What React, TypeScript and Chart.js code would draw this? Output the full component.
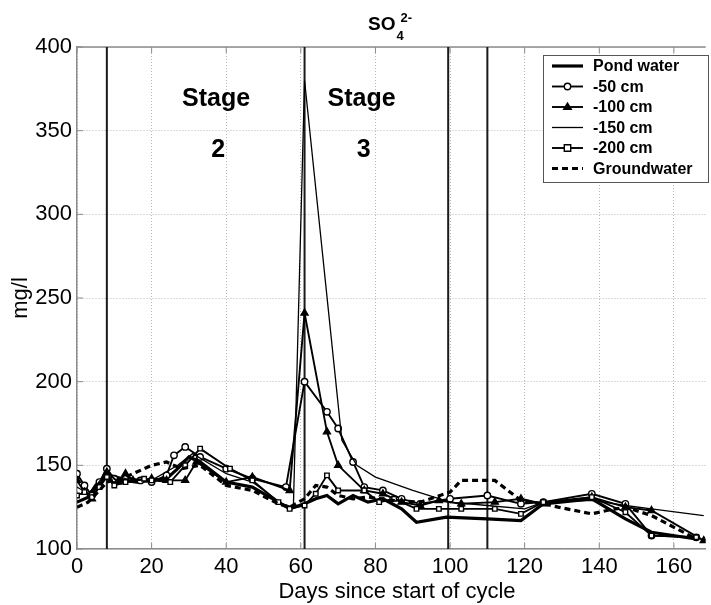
import { useEffect, useRef } from "react";
import { Chart, registerables } from "chart.js";

Chart.register(...registerables);

// ---------------- data ----------------
const seriesNames = ["Pond water", "-50 cm", "-100 cm", "-150 cm", "-200 cm", "Groundwater"];

const pondWater: [number, number][] = [
  [0, 128], [3, 131], [5, 138], [8, 144], [10, 140], [13, 141], [16, 140], [20, 141], [24, 142],
  [27, 148], [30, 155], [33, 152], [40, 140], [47, 137], [54, 128], [57, 124], [61, 127], [64, 130],
  [67, 132], [70, 127], [74, 132], [78, 128], [82, 130], [87, 124], [91, 116], [99, 119], [110, 118],
  [119, 117], [125, 127], [138, 130], [147, 118], [154, 110], [166, 106],
];

const minus50: [number, number][] = [
  [0, 145], [2, 138], [4, 132], [6, 140], [8, 148], [10, 142], [13, 143], [17, 141], [20, 140],
  [24, 144], [26, 156], [29, 161], [33, 155], [40, 148], [47, 142], [56, 137], [61, 200], [67, 182],
  [70, 172], [74, 152], [77, 137], [82, 135], [87, 130], [92, 127], [100, 130], [110, 132], [119, 127],
  [125, 128], [138, 133], [147, 127], [154, 108], [166, 107],
];

const minus100: [number, number][] = [
  [0, 141], [2, 134], [4, 130], [6, 138], [8, 146], [11, 140], [13, 145], [15, 141], [20, 142],
  [24, 141], [29, 141], [32, 152], [40, 140], [47, 143], [57, 135], [61, 241], [67, 170], [70, 150],
  [77, 135], [82, 133], [87, 128], [92, 126], [97, 129], [103, 127], [112, 128], [119, 130], [125, 127],
  [138, 131], [147, 125], [154, 123], [168, 105],
];

const minus150: [number, number][] = [
  [0, 137], [3, 133], [8, 145], [13, 142], [20, 141], [27, 150], [31, 157], [40, 145], [47, 140],
  [55, 127], [58, 125], [61, 380], [71, 165], [75, 150], [80, 143], [90, 135], [100, 128], [110, 126],
  [120, 124], [125, 128], [138, 129], [147, 126], [154, 124], [168, 120],
];

const minus200: [number, number][] = [
  [0, 132], [2, 134], [4, 131], [6, 137], [8, 143], [10, 138], [13, 140], [18, 142], [20, 141],
  [25, 140], [29, 150], [33, 160], [41, 148], [47, 141], [54, 128], [57, 124], [61, 126], [64, 133],
  [67, 144], [70, 135], [77, 135], [81, 128], [85, 130], [91, 124], [97, 124], [103, 124], [112, 124],
  [119, 121], [125, 128], [138, 131], [147, 122], [154, 108], [166, 107],
];

const groundwater: [number, number][] = [
  [0, 125], [3, 128], [6, 135], [8, 140], [12, 142], [16, 146], [20, 150], [24, 152], [28, 148],
  [33, 150], [40, 138], [47, 135], [54, 127], [57, 125], [61, 130], [64, 138], [67, 137], [70, 132],
  [74, 130], [78, 131], [85, 129], [92, 128], [100, 134], [103, 141], [112, 141], [119, 129],
  [125, 127], [129, 125], [138, 121], [142, 123], [147, 125], [154, 120], [166, 106],
];

const seriesData = [pondWater, minus50, minus100, minus150, minus200, groundwater];

const xTickValues = [0, 20, 40, 60, 80, 100, 120, 140, 160];
const yTickValues = [100, 150, 200, 250, 300, 350, 400];
const xRange = [0, 168.5];
const yRange = [100, 400];

const stageBoundaries = [8, 61, 99.5, 110];
const stageLabels = [
  { day: 37.3, label: "2" },
  { day: 76.3, label: "3" },
];

// ---------------- styles ----------------
const FONT = "'Liberation Sans', Arial, Helvetica, sans-serif";
const INK = "#000";
type Style = {
  borderWidth: number;
  borderDash?: number[];
  pointStyle?: string | false;
  pointRadius?: number;
  pointFill?: string;
};
const styles: Style[] = [
  { borderWidth: 3.2 },
  { borderWidth: 1.9, pointStyle: "circle", pointRadius: 3.2, pointFill: "#fff" },
  { borderWidth: 1.9, pointStyle: "triangle", pointRadius: 4, pointFill: "#000" },
  { borderWidth: 1.3 },
  { borderWidth: 1.9, pointStyle: "rect", pointRadius: 3.2, pointFill: "#fff" },
  { borderWidth: 3.2, borderDash: [6, 4] },
];

function drawMarker(ctx: CanvasRenderingContext2D, style: string, x: number, y: number, r: number, fill: string) {
  ctx.beginPath();
  if (style === "circle") {
    ctx.arc(x, y, r, 0, Math.PI * 2);
  } else if (style === "triangle") {
    ctx.moveTo(x, y - r);
    ctx.lineTo(x + r * 0.95, y + r * 0.6);
    ctx.lineTo(x - r * 0.95, y + r * 0.6);
    ctx.closePath();
  } else if (style === "rect") {
    ctx.rect(x - r, y - r, 2 * r, 2 * r);
  }
  ctx.fillStyle = fill;
  ctx.fill();
  ctx.lineWidth = 1.4;
  ctx.setLineDash([]);
  ctx.strokeStyle = INK;
  ctx.stroke();
}

const overlayPlugin = {
  id: "overlay",
  beforeDatasetsDraw(chart: any) {
    const { ctx, chartArea, scales } = chart;
    const xs = scales.x;
    const ys = scales.y;
    ctx.save();
    // top border
    ctx.strokeStyle = "#8c8c8c";
    ctx.lineWidth = 1.5;
    ctx.beginPath();
    ctx.moveTo(chartArea.left, chartArea.top);
    ctx.lineTo(chartArea.right, chartArea.top);
    ctx.stroke();
    // inward tick marks
    ctx.lineWidth = 1;
    xTickValues.forEach((v) => {
      const px = xs.getPixelForValue(v);
      ctx.beginPath();
      ctx.moveTo(px, chartArea.bottom);
      ctx.lineTo(px, chartArea.bottom - 6);
      ctx.moveTo(px, chartArea.top);
      ctx.lineTo(px, chartArea.top + 6);
      ctx.stroke();
    });
    yTickValues.forEach((v) => {
      const py = ys.getPixelForValue(v);
      ctx.beginPath();
      ctx.moveTo(chartArea.left, py);
      ctx.lineTo(chartArea.left + 6, py);
      ctx.stroke();
    });
    // stage boundary lines
    ctx.strokeStyle = "#1a1a1a";
    ctx.lineWidth = 2;
    stageBoundaries.forEach((d) => {
      const px = xs.getPixelForValue(d);
      ctx.beginPath();
      ctx.moveTo(px, chartArea.top);
      ctx.lineTo(px, chartArea.bottom);
      ctx.stroke();
    });
    ctx.restore();
  },
  afterDraw(chart: any) {
    const { ctx, chartArea, scales } = chart;
    const xs = scales.x;
    ctx.save();
    ctx.fillStyle = INK;
    // stage labels
    ctx.font = `bold 25px ${FONT}`;
    ctx.textAlign = "center";
    ctx.textBaseline = "alphabetic";
    stageLabels.forEach((s) => {
      const px = xs.getPixelForValue(s.day);
      ctx.fillText("Stage", px, chartArea.top + 59);
      ctx.fillText(s.label, px + 2, chartArea.top + 110);
    });
    // title SO4 2-
    ctx.textAlign = "left";
    ctx.font = `bold 19px ${FONT}`;
    ctx.fillText("SO", 368, 30);
    const w = ctx.measureText("SO").width;
    ctx.font = `bold 13px ${FONT}`;
    ctx.fillText("4", 368 + w + 1, 40);
    ctx.fillText("2-", 368 + w + 5, 22);
    // axis titles
    ctx.font = `22px ${FONT}`;
    ctx.textAlign = "center";
    ctx.fillText("Days since start of cycle", 397, 598);
    ctx.save();
    ctx.translate(27, (chartArea.top + chartArea.bottom) / 2);
    ctx.rotate(-Math.PI / 2);
    ctx.fillText("mg/l", 0, 0);
    ctx.restore();
    // legend
    const lx = 543, ly = 55, lw = 165, lh = 127;
    ctx.fillStyle = "#fff";
    ctx.fillRect(lx, ly, lw, lh);
    ctx.strokeStyle = "#555";
    ctx.lineWidth = 1;
    ctx.strokeRect(lx + 0.5, ly + 0.5, lw, lh);
    ctx.font = `bold 16px ${FONT}`;
    ctx.textAlign = "left";
    ctx.textBaseline = "middle";
    seriesNames.forEach((name, i) => {
      const st = styles[i];
      const y = ly + 11 + i * 20.5;
      ctx.strokeStyle = INK;
      ctx.lineWidth = st.borderWidth;
      ctx.setLineDash(st.borderDash || []);
      ctx.beginPath();
      ctx.moveTo(552, y);
      ctx.lineTo(583, y);
      ctx.stroke();
      ctx.setLineDash([]);
      if (st.pointStyle) drawMarker(ctx, st.pointStyle as string, 567.5, y, st.pointRadius || 3, st.pointFill || "#fff");
      ctx.fillStyle = INK;
      ctx.fillText(name, 593, y + 1);
    });
    ctx.restore();
  },
};

export default function App() {
  const canvasRef = useRef<HTMLCanvasElement | null>(null);

  useEffect(() => {
    document.body.style.margin = "0";
    const canvas = canvasRef.current;
    if (!canvas) return;
    const datasets = seriesData.map((pts, i) => {
      const st = styles[i];
      return {
        label: seriesNames[i],
        data: pts.map(([x, y]) => ({ x, y })),
        showLine: true,
        borderColor: INK,
        backgroundColor: st.pointFill || "#fff",
        borderWidth: st.borderWidth,
        borderDash: st.borderDash || [],
        pointStyle: st.pointStyle || "circle",
        pointRadius: st.pointStyle ? st.pointRadius : 0,
        pointBorderWidth: 1.4,
        pointBorderColor: INK,
        pointBackgroundColor: st.pointFill || "#fff",
        tension: 0,
        order: 6 - i,
      };
    });

    const chart = new Chart(canvas, {
      type: "scatter",
      data: { datasets },
      options: {
        animation: false,
        responsive: true,
        maintainAspectRatio: false,
        layout: { padding: { top: 47, left: 0, right: 0, bottom: 0 } },
        plugins: {
          legend: { display: false },
          tooltip: { enabled: false },
        },
        scales: {
          x: {
            type: "linear",
            min: xRange[0],
            max: xRange[1],
            afterFit: (s: any) => {
              s.height = 56;
            },
            afterBuildTicks: (s: any) => {
              s.ticks = xTickValues.map((v) => ({ value: v }));
            },
            ticks: {
              font: { family: FONT, size: 22 },
              color: INK,
              padding: 5,
              maxRotation: 0,
              includeBounds: false,
            },
            grid: { color: "#b8b8b8", drawTicks: false, lineWidth: 1 },
            border: { display: true, color: "#8c8c8c", width: 1.5, dash: [1, 2] },
          },
          y: {
            type: "linear",
            min: yRange[0],
            max: yRange[1],
            afterFit: (s: any) => {
              s.width = 77;
            },
            afterBuildTicks: (s: any) => {
              s.ticks = yTickValues.map((v) => ({ value: v }));
            },
            ticks: {
              font: { family: FONT, size: 22 },
              color: INK,
              padding: 5,
            },
            grid: { color: "#b8b8b8", drawTicks: false, lineWidth: 1 },
            border: { display: true, color: "#8c8c8c", width: 1.5, dash: [1, 2] },
          },
        },
      },
      plugins: [overlayPlugin],
    });
    return () => chart.destroy();
  }, []);

  return (
    <div style={{ position: "fixed", left: 0, top: 0, width: 711, height: 605, background: "#fff" }}>
      <canvas ref={canvasRef} />
    </div>
  );
}
